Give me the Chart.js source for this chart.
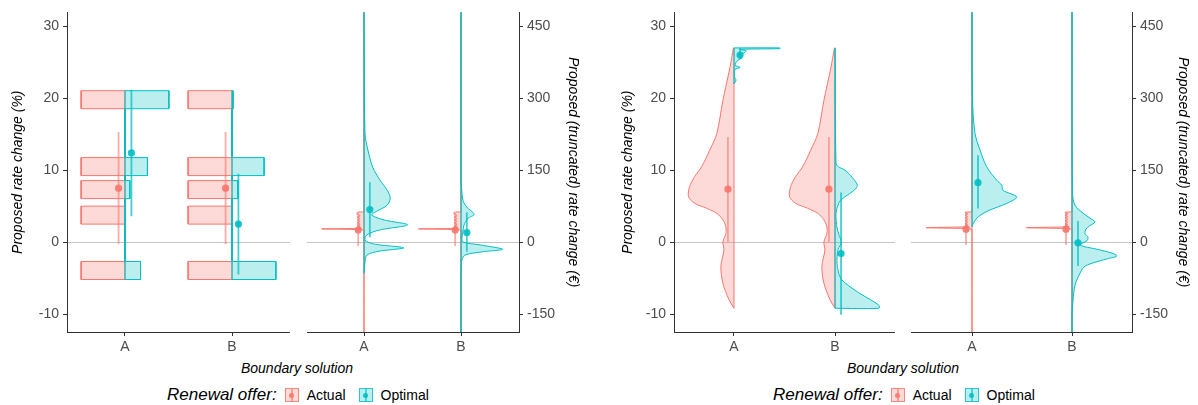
<!DOCTYPE html>
<html>
<head>
<meta charset="utf-8">
<script src="https://cdn.jsdelivr.net/npm/chart.js@4.4.1/dist/chart.umd.min.js"></script>
<style>
  body { margin: 0; background: #fff; font-family: "Liberation Sans", Arial, sans-serif; }
  #wrap { position: relative; width: 1198px; height: 405px; overflow: hidden; }
  canvas { position: absolute; top: 0; }
  .xtitle { position: absolute; top: 360px; line-height: 16px; font-size: 14px; font-style: italic; color: #000; transform: translateX(-50%); white-space: nowrap; }
  .legend { position: absolute; top: 385px; height: 20px; display: flex; align-items: center; white-space: nowrap; }
  .legend .ltitle { font-size: 17px; font-style: italic; margin-right: 8px; }
  .legend .lab { font-size: 14px; margin-left: 8px; margin-right: 13px; }
  .key { position: relative; width: 14px; height: 14px; box-sizing: border-box; border: 1px solid; }
  .key i { position: absolute; left: 5.5px; top: 0; width: 1.5px; height: 12px; }
  .key b { position: absolute; left: 3.5px; top: 3.5px; width: 5px; height: 5px; border-radius: 50%; }
</style>
</head>
<body>
<div id="wrap">
  <canvas id="c1" width="290" height="360" style="left:0px"></canvas>
  <canvas id="c2" width="283" height="360" style="left:307px"></canvas>
  <canvas id="c3" width="295" height="360" style="left:600px"></canvas>
  <canvas id="c4" width="287" height="360" style="left:911px"></canvas>
  <div class="xtitle" style="left:297px">Boundary solution</div>
  <div class="xtitle" style="left:903px">Boundary solution</div>
  <div class="legend" id="leg1" style="left:167px"></div>
  <div class="legend" id="leg2" style="left:773px"></div>
</div>
<script>
// categories / series
const categories = ['A', 'B'];
const seriesNames = ['Actual', 'Optimal'];
const pctTicks = [-10, 0, 10, 20, 30];
const eurTicks = [-150, 0, 150, 300, 450];

// left panel, % : histogram bars (bin centres) and bar lengths
const histBins = [19.8, 10.5, 7.3, 3.75, -3.95];
const histBinHeight = 2.5;
const histActualA = [0.41, 0.41, 0.41, 0.41, 0.41];
const histActualB = [0.41, 0.41, 0.41, 0.41, 0.41];
const histOptimalA = [0.41, 0.21, 0.045, 0, 0.145];
const histOptimalB = [0.01, 0.30, 0.055, 0, 0.41];
// [low, point, high] for A and B
const pctActualRange = [[-0.3, 7.5, 15.3], [-0.3, 7.5, 15.3]];
const pctOptimalRange = [[3.6, 12.4, 21.2], [-4.5, 2.5, 9.5]];

// left panel, euro : half violins (y value, density)
const eurActualY = [-190, 24, 26, 27.5, 29, 31, 33, 35, 37, 40, 43, 46, 49, 52, 55, 58, 62, 63, 480];
const eurActualW = [0, 0, 0.03, 0.44, 0.03, 0.07, 0.04, 0.07, 0.04, 0.07, 0.04, 0.07, 0.04, 0.07, 0.04, 0.07, 0.07, 0, 0];
const eurOptimalAY = [-65, -42, -27, -19, -12, -4, 4, 15, 25, 36, 46, 56, 62, 77, 92, 108, 129, 156, 192, 227, 480];
const eurOptimalAW = [0, 0.01, 0.03, 0.155, 0.41, 0.10, 0.01, 0.03, 0.155, 0.45, 0.21, 0.08, 0.11, 0.24, 0.27, 0.24, 0.165, 0.09, 0.04, 0.01, 0];
const eurOptimalBY = [-190, -60, -37, -27, -20, -15, -6, 0, 8, 21, 35, 49, 58, 73, 87, 130, 480];
const eurOptimalBW = [0, 0, 0.01, 0.04, 0.23, 0.43, 0.2, 0.02, 0.01, 0.02, 0.03, 0.07, 0.135, 0.06, 0.02, 0, 0];
const eurActualRange = [[-8, 25, 60], [-8, 25, 60]];
const eurOptimalRange = [[10, 68, 125], [-20, 20, 62]];

// right panel, % : half violins
const pct2ActualY = [-9.2, -8, -5.7, -3.4, -1.1, 0, 1.2, 2.1, 3.1, 4.0, 4.7, 5.4, 6.3, 7.7, 9.1, 10.5, 12.8, 15.1, 19.7, 24.3, 27.0];
const pct2ActualW = [0, 0.05, 0.11, 0.13, 0.10, 0.11, 0.08, 0.08, 0.11, 0.17, 0.27, 0.39, 0.45, 0.44, 0.39, 0.32, 0.24, 0.17, 0.11, 0.04, 0.005];
const pct2OptimalAY = [22, 22.5, 23, 24, 24.3, 24.6, 25.3, 25.6, 26, 26.3, 26.6, 26.8, 26.9, 27.0, 27.0];
const pct2OptimalAW = [0, 0.02, 0.005, 0.01, 0.06, 0.01, 0.04, 0.08, 0.04, 0.10, 0.12, 0.06, 0.455, 0.455, 0];
const pct2OptimalBY = [-9.2, -9.2, -8.8, -8, -7, -6, -5, -3, -1, -0.5, 0, 1, 2, 4, 5.5, 6, 6.5, 7, 7.5, 8, 9, 10, 10.5, 11, 27];
const pct2OptimalBW = [0, 0.435, 0.435, 0.35, 0.23, 0.13, 0.055, 0.02, 0.03, 0.05, 0.065, 0.04, 0.02, 0.01, 0.04, 0.07, 0.12, 0.17, 0.21, 0.22, 0.17, 0.10, 0.03, 0.01, 0];
const pct2ActualRange = [[0, 7.36, 14.6], [0, 7.36, 14.6]];
const pct2OptimalRange = [[25.5, 26.0, 27.0], [-10.1, -1.6, 6.9]];

// right panel, euro : half violins
const eur2ActualY = [-190, 26, 28, 30, 32, 34, 36, 38, 41, 44, 47, 50, 53, 56, 59, 62, 63, 480];
const eur2ActualW = [0, 0, 0.03, 0.46, 0.03, 0.07, 0.04, 0.07, 0.04, 0.07, 0.04, 0.07, 0.04, 0.07, 0.04, 0.07, 0, 0];
const eur2OptimalAY = [32, 39, 53, 67, 80.6, 94, 108, 119, 129, 157, 192, 227, 296, 480];
const eur2OptimalAW = [0, 0.013, 0.063, 0.18, 0.347, 0.447, 0.31, 0.297, 0.247, 0.147, 0.08, 0.03, 0.005, 0];
const eur2OptimalBY = [-190, -152, -121, -90, -69, -52, -44, -35, -29, -23, -15, -6, 3, 10, 18, 27, 33, 42, 50, 62, 77, 102, 480];
const eur2OptimalBW = [0, 0, 0.01, 0.03, 0.07, 0.12, 0.2, 0.35, 0.45, 0.4, 0.25, 0.08, 0.15, 0.16, 0.13, 0.14, 0.17, 0.23, 0.18, 0.1, 0.03, 0.005, 0];
const eur2ActualRange = [[-6, 27, 62], [-6, 27, 62]];
const eur2OptimalRange = [[70, 124, 181], [-50, -1.4, 44]];

const RED = '248,118,109';
const TEAL = '0,191,196';
const DODGE = 0.06;

Chart.defaults.font.family = '"Liberation Sans", Arial, sans-serif';

// closed outline of a half violin: centre -> curve -> centre -> back up
// points touching the centre line are doubled so the smoothing keeps the straight edge straight
function violin(center, side, ys, ws) {
  const pts = [{ x: center, y: ys[0] }, { x: center, y: ys[0] }];
  ys.forEach((y, i) => {
    const p = { x: center + side * ws[i], y: y };
    pts.push(p);
    if (ws[i] === 0) pts.push({ x: p.x, y: p.y });
  });
  const last = ys[ys.length - 1];
  pts.push({ x: center, y: last }, { x: center, y: last }, { x: center, y: ys[0] }, { x: center, y: ys[0] });
  return pts;
}

// histogram drawn as a chain of rectangles hanging off the centre line
function histogram(center, side, bins, widths) {
  const pts = [];
  bins.forEach((b, i) => {
    const top = b + histBinHeight / 2, bot = b - histBinHeight / 2;
    const x = center + side * widths[i];
    pts.push({ x: center, y: top }, { x: x, y: top }, { x: x, y: bot }, { x: center, y: bot });
  });
  pts.push({ x: center, y: pts[0].y });
  return pts;
}

function shapeSet(pts, rgb, order, tension) {
  return {
    data: pts, borderColor: 'rgb(' + rgb + ')', backgroundColor: 'rgba(' + rgb + ',0.27)',
    borderWidth: 1, fill: 'shape', pointRadius: 0, pointHoverRadius: 0, tension: tension, order: order
  };
}

function rangeSet(x, r, rgb, alpha) {
  return {
    data: [{ x: x, y: r[0] }, { x: x, y: r[1] }, { x: x, y: r[2] }],
    borderColor: 'rgba(' + rgb + ',' + alpha + ')', borderWidth: 1.8, fill: false, tension: 0,
    pointRadius: [0, 3.6, 0], pointHoverRadius: 0, pointBorderWidth: 0,
    pointBackgroundColor: 'rgba(' + rgb + ',0.9)', order: 0
  };
}

function panelSets(actualShapes, optimalShapes, actualRange, optimalRange, tension) {
  const sets = [];
  categories.forEach((c, i) => {
    sets.push(shapeSet(actualShapes[i], RED, 2, tension));
    sets.push(shapeSet(optimalShapes[i], TEAL, 1, tension));
    sets.push(rangeSet(i + 1 - DODGE, actualRange[i], RED, 0.6));
    sets.push(rangeSet(i + 1 + DODGE, optimalRange[i], TEAL, 0.75));
  });
  return sets;
}

function xAxis(min, max) {
  return {
    type: 'linear', position: 'bottom', min: min, max: max,
    afterBuildTicks: s => { s.ticks = categories.map((c, i) => ({ value: i + 1 })); },
    afterFit: s => { s.height = 28; },
    ticks: { color: '#4d4d4d', font: { size: 14 }, padding: 3, autoSkip: false, maxRotation: 0,
      callback: v => categories[Math.round(v) - 1] },
    grid: { drawOnChartArea: false, tickColor: '#333', tickLength: 4 },
    border: { display: true, color: '#333', width: 1 }
  };
}

function yAxis(pos, min, max, ticks, title, width, titlePad) {
  return {
    type: 'linear', position: pos, min: min, max: max,
    afterBuildTicks: s => { s.ticks = ticks.map(v => ({ value: v })); },
    afterFit: s => { s.width = width; },
    ticks: { color: '#4d4d4d', font: { size: 14 }, padding: 4, autoSkip: false },
    grid: {
      drawOnChartArea: true, tickColor: '#333', tickLength: 4,
      color: c => (c.tick && c.tick.value === 0) ? '#c4c4c4' : 'rgba(0,0,0,0)'
    },
    border: { display: true, color: '#333', width: 1 },
    title: { display: true, text: title, color: '#000', font: { size: 14, style: 'italic' },
      padding: { top: titlePad, bottom: 0 } }
  };
}

function makeChart(id, datasets, xScale, yScale) {
  return new Chart(document.getElementById(id), {
    type: 'line',
    data: { datasets: datasets },
    options: {
      responsive: false, animation: false, events: [],
      layout: { padding: { top: 12, left: 0, right: 0, bottom: 0 } },
      plugins: { legend: { display: false }, tooltip: { enabled: false } },
      scales: { x: xScale, y: yScale }
    }
  });
}

const pctTitle = 'Proposed rate change (%)';
const eurTitle = 'Proposed (truncated) rate change (€)';

// left panel
makeChart('c1',
  panelSets(
    [histogram(1, -1, histBins, histActualA), histogram(2, -1, histBins, histActualB)],
    [histogram(1, 1, histBins, histOptimalA), histogram(2, 1, histBins, histOptimalB)],
    pctActualRange, pctOptimalRange, 0),
  xAxis(0.458, 2.542), yAxis('left', -12.5, 31.94, pctTicks, pctTitle, 67, 9.6));

makeChart('c2',
  panelSets(
    [violin(1, -1, eurActualY, eurActualW), violin(2, -1, eurActualY, eurActualW)],
    [violin(1, 1, eurOptimalAY, eurOptimalAW), violin(2, 1, eurOptimalBY, eurOptimalBW)],
    eurActualRange, eurOptimalRange, 0.3),
  xAxis(0.412, 2.598), yAxis('right', -187.5, 479, eurTicks, eurTitle, 71, 8.6));

// right panel
makeChart('c3',
  panelSets(
    [violin(1, -1, pct2ActualY, pct2ActualW), violin(2, -1, pct2ActualY, pct2ActualW)],
    [violin(1, 1, pct2OptimalAY, pct2OptimalAW), violin(2, 1, pct2OptimalBY, pct2OptimalBW)],
    pct2ActualRange, pct2OptimalRange, 0.3),
  xAxis(0.406, 2.594), yAxis('left', -12.5, 31.94, pctTicks, pctTitle, 74, 19.6));

makeChart('c4',
  panelSets(
    [violin(1, -1, eur2ActualY, eur2ActualW), violin(2, -1, eur2ActualY, eur2ActualW)],
    [violin(1, 1, eur2OptimalAY, eur2OptimalAW), violin(2, 1, eur2OptimalBY, eur2OptimalBW)],
    eur2ActualRange, eur2OptimalRange, 0.3),
  xAxis(0.39, 2.6), yAxis('right', -187.5, 479, eurTicks, eurTitle, 66, 6.6));

// legends
function buildLegend(id) {
  const el = document.getElementById(id);
  let html = '<span class="ltitle">Renewal offer:</span>';
  [RED, TEAL].forEach((rgb, i) => {
    html += '<span class="key" style="border-color:rgba(' + rgb + ',0.8);background:rgba(' + rgb + ',0.27)">' +
      '<i style="background:rgba(' + rgb + ',0.6)"></i><b style="background:rgba(' + rgb + ',0.9)"></b></span>' +
      '<span class="lab">' + seriesNames[i] + '</span>';
  });
  el.innerHTML = html;
}
buildLegend('leg1');
buildLegend('leg2');
</script>
</body>
</html>
